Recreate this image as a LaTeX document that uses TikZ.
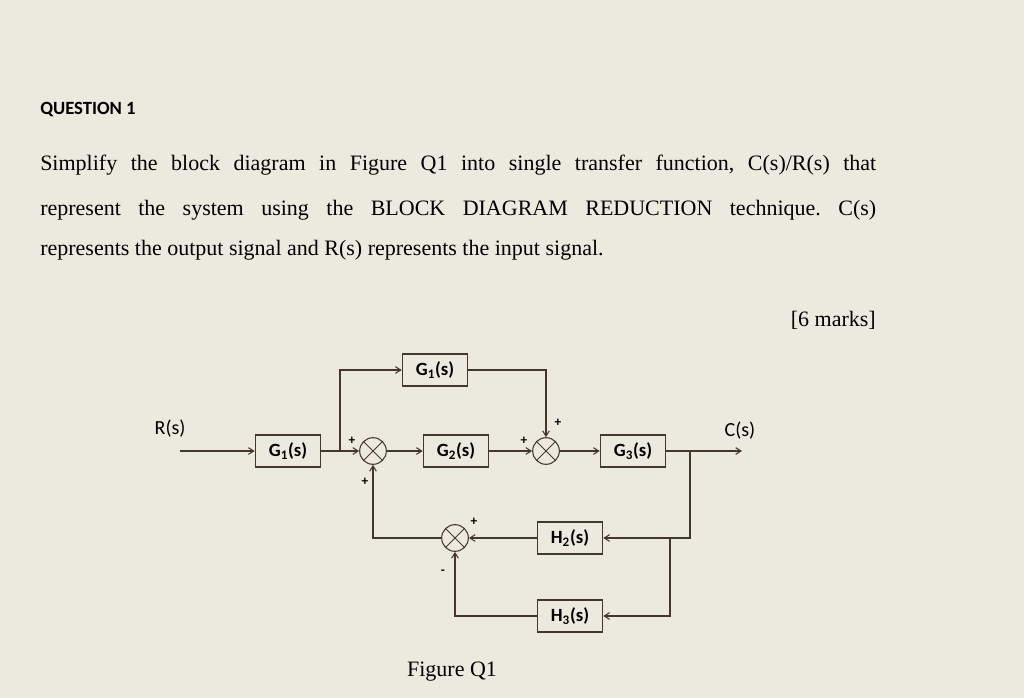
\documentclass[tikz,border=0pt]{standalone}
\usepackage{fontspec}
\setmainfont{Liberation Serif}
\newfontfamily\carl{Carlito}
\usetikzlibrary{arrows.meta}
\definecolor{bg}{RGB}{236,233,222}
\definecolor{ln}{RGB}{70,55,45}
\frenchspacing
\begin{document}
\begin{tikzpicture}[x=0.75pt,y=-0.75pt,
 blk/.style={draw=ln,line width=0.9pt,minimum width=49pt,minimum height=24pt,inner sep=0pt,font=\carl\fontsize{14}{14}\selectfont\bfseries},
 sum/.style={draw=ln,circle,line width=0.8pt,minimum size=20pt,inner sep=0pt,path picture={\draw[ln,line width=0.7pt](path picture bounding box.south west)--(path picture bounding box.north east)(path picture bounding box.north west)--(path picture bounding box.south east);}},
 w/.style={draw=ln,line width=0.8pt},
 a/.style={w,-{Straight Barb[length=4pt,width=5pt]}},
 sg/.style={font=\carl\fontsize{10}{10}\selectfont\bfseries,inner sep=1pt},
 lb/.style={font=\carl\fontsize{15}{15}\selectfont,text=black},
 txt/.style={anchor=west,inner sep=0pt,font=\fontsize{16.5}{16.5}\selectfont}]
\fill[bg] (0,0) rectangle (1024,698);
\useasboundingbox (0,0) rectangle (1024,698);
\node[anchor=west,inner sep=0pt,font=\carl\fontsize{14}{14}\selectfont\bfseries] (q) at (40,110) {QUESTION 1};
\node[txt] (l1) at (40,165) {\makebox[627pt][s]{Simplify the block diagram in Figure Q1 into single transfer function, C(s)/R(s) that}};
\node[txt] (l2) at (40,210) {\makebox[627pt][s]{represent the system using the BLOCK DIAGRAM REDUCTION technique. C(s)}};
\node[txt] (l3) at (40,250) {represents the output signal and R(s) represents the input signal.};
\node[txt,anchor=east] (mk) at (876,320) {[6 marks]};
\node[txt,anchor=center] (fig) at (452,672) {Figure Q1};
% diagram
\coordinate (rin) at (180,451);
\node[lb,anchor=south west] (R) at (150,442) {R(s)};
\node[blk] (g1) at (288,451) {G\textsubscript{1}(s)};
\node[sum] (s1) at (373,451) {};
\node[blk] (g2) at (456,451) {G\textsubscript{2}(s)};
\node[sum] (s2) at (546,451) {};
\node[blk] (g3) at (633,451) {G\textsubscript{3}(s)};
\coordinate (cout) at (742,451);
\node[lb,anchor=south] (C) at (740,444) {C(s)};
\node[blk] (g1t) at (435,370) {G\textsubscript{1}(s)};
\node[sum] (s3) at (455,538) {};
\node[blk] (h2) at (570,538) {H\textsubscript{2}(s)};
\node[blk] (h3) at (570,616) {H\textsubscript{3}(s)};
\coordinate (b1) at (340,451);
\coordinate (b2) at (690,451);
\coordinate (b3) at (670,538);
\draw[a] (rin) -- (g1.west);
\draw[a] (g1.east) -- (s1.west);
\draw[a] (b1) |- (g1t.west);
\draw[a] (g1t.east) -| (s2.north);
\draw[a] (s1.east) -- (g2.west);
\draw[a] (g2.east) -- (s2.west);
\draw[a] (s2.east) -- (g3.west);
\draw[a] (g3.east) -- (cout);
\draw[a] (b2) |- (h2.east);
\draw[a] (b3) |- (h3.east);
\draw[a] (h2.west) -- (s3.east);
\draw[a] (h3.west) -| (s3.south);
\draw[a] (s3.west) -| (s1.south);
\node[sg] (p1) at (352,441) {+};
\node[sg] (p2) at (365,482) {+};
\node[sg] (p3) at (524,441) {+};
\node[sg] (p4) at (558,423) {+};
\node[sg] (p5) at (474,522) {+};
\node[sg] (p6) at (443,572) {-};
\end{tikzpicture}
\end{document}
